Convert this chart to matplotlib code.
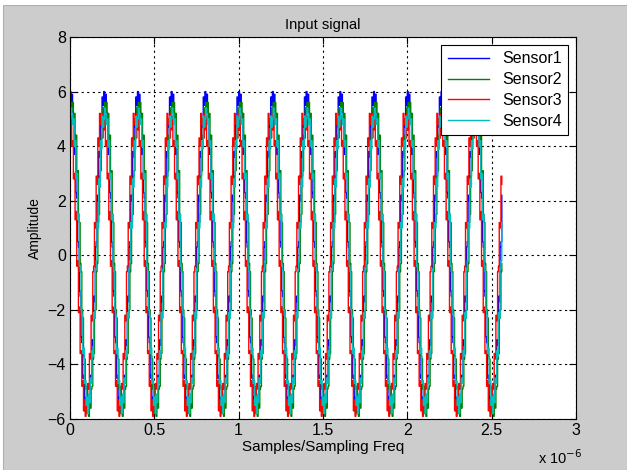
import numpy as np
import matplotlib.pyplot as plt
from matplotlib.patches import Rectangle

plt.rcParams['font.family'] = ['Liberation Sans', 'DejaVu Sans']

# sampling: 200 MHz, 5 MHz tone -> 40 samples per period
dt = 5e-9
n_samples = 513

# one period of each sensor's sampled signal
sensor1 = [6.0, 5.4, 5.9, 4.8, 5.1, 3.7, 3.9, 2.3, 2.1, 0.5,
           0.3, -1.3, -1.5, -3.0, -3.2, -4.5, -4.4, -5.5, -5.2, -5.6,
           -5.4, -5.7, -5.1, -5.3, -4.4, -4.6, -3.1, -3.3, -1.5, -1.7,
           0.3, 0.5, 2.2, 2.0, 3.8, 3.6, 5.0, 4.7, 5.8, 5.5]
sensor2 = [5.2, 5.6, 5.3, 5.6, 4.9, 5.2, 4.2, 4.4, 3.0, 3.1,
           1.5, 1.2, -0.3, -0.6, -2.0, -2.3, -3.7, -3.8, -4.9, -4.8,
           -5.8, -5.5, -5.9, -5.4, -5.6, -4.9, -4.8, -3.8, -3.6, -2.3,
           -2.0, -0.6, -0.3, 1.2, 1.5, 2.9, 3.1, 4.4, 4.3, 5.4]
sensor3 = [4.6, 5.1, 4.0, 4.2, 2.8, 3.0, 1.3, 1.6, -0.4, -0.2,
           -2.1, -1.9, -3.6, -3.5, -4.8, -4.6, -5.7, -5.3, -5.9, -5.4,
           -5.6, -4.7, -4.9, -3.6, -3.8, -2.2, -2.4, -0.6, -0.4, 1.2,
           1.0, 2.9, 2.6, 4.3, 4.0, 5.2, 4.8, 5.0, 4.3, 5.2]
sensor4 = [5.0, 5.4, 5.2, 4.8, 5.0, 4.0, 4.2, 2.8, 3.0, 1.3,
           1.5, -0.4, -0.6, -2.0, -2.2, -3.6, -3.4, -4.7, -4.6, -5.5,
           -5.2, -5.8, -5.1, -5.4, -4.5, -4.7, -3.5, -3.7, -2.1, -2.3,
           -0.5, -0.2, 1.2, 1.0, 2.8, 2.5, 4.2, 3.9, 5.1, 4.7]

names = ['Sensor1', 'Sensor2', 'Sensor3', 'Sensor4']
colors = ['#0000ff', '#008000', '#ff0000', '#00bfbf']

xticks = [0, 0.5, 1, 1.5, 2, 2.5, 3]
yticks = [-6, -4, -2, 0, 2, 4, 6, 8]


def main():
    t = np.arange(n_samples) * dt
    signals = []
    for s in [sensor1, sensor2, sensor3, sensor4]:
        reps = n_samples // len(s) + 1
        signals.append(np.tile(s, reps)[:n_samples])

    fig = plt.figure(figsize=(6.27, 4.70), dpi=100)
    fig.patch.set_facecolor('white')
    # gray figure window area
    fig.patches.append(Rectangle((3 / 627, 0), 1, 1 - 5 / 470, transform=fig.transFigure,
                                 facecolor='#cccccc', edgecolor='#9fb4cc', lw=0.8, zorder=-1))

    ax = fig.add_axes([70 / 627, 51 / 470, 506 / 627, 382 / 470])
    for y, name, col in zip(signals, names, colors):
        ax.step(t * 1e6, y, where='post', color=col, lw=1.0, label=name)

    ax.set_xlim(0, 3)
    ax.set_ylim(-6, 8)
    ax.set_xticks(xticks)
    ax.set_xticklabels(['0', '0.5', '1', '1.5', '2', '2.5', '3'])
    ax.set_yticks(yticks)
    ax.tick_params(direction='in', length=5, width=0.8, top=True, right=True,
                   labelsize=11.5, pad=3, colors='black')
    ax.grid(True, color='black', linestyle=(0, (2, 3)), lw=0.8)
    for sp in ax.spines.values():
        sp.set_linewidth(0.8)

    ax.set_title('Input signal', fontsize=10.5, pad=6)
    ax.set_xlabel('Samples/Sampling Freq', fontsize=11, labelpad=1)
    ax.set_ylabel('Amplitude', fontsize=10, labelpad=4)
    ax.text(0.925, -0.1, r'x 10$^{-6}$', transform=ax.transAxes, fontsize=10.5,
            ha='left', va='center')

    leg = ax.legend(loc='upper right', fontsize=11.5, fancybox=False, framealpha=1,
                    edgecolor='black', handlelength=2.6, borderaxespad=0.5,
                    labelspacing=0.36, borderpad=0.4)
    leg.get_frame().set_linewidth(0.8)

    plt.savefig('out.png', dpi=100)


if __name__ == "__main__":
    main()
